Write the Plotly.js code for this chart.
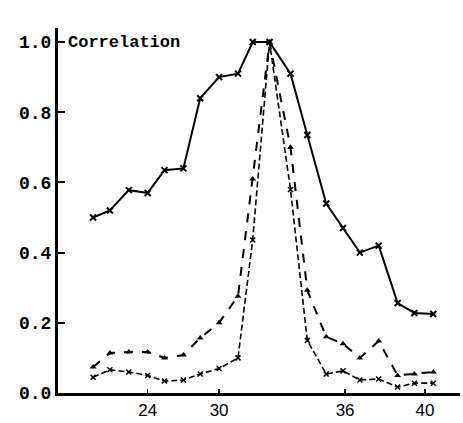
<!DOCTYPE html>
<html>
<head>
<meta charset="utf-8">
<script src="https://cdn.plot.ly/plotly-3.0.1.min.js"></script>
<style>html,body{margin:0;padding:0;background:#fff;}#chart{width:463px;height:423px;}</style>
</head>
<body>
<div id="chart"></div>
<script>
// x positions of the sampled points (axis units)
var xPos = [24.0, 24.8, 25.7, 26.6, 27.4, 28.3, 29.1, 30.0, 30.9, 31.6, 32.4, 33.4, 34.2, 35.1, 35.9, 36.7, 37.6, 38.5, 39.3, 40.2];
// upper curve
var seriesTop = [0.50, 0.52, 0.578, 0.57, 0.635, 0.64, 0.84, 0.90, 0.91, 1.0, 1.0, 0.91, 0.735, 0.54, 0.47, 0.40, 0.42, 0.256, 0.228, 0.225];
// middle curve (triangles)
var seriesMid = [0.074, 0.114, 0.117, 0.117, 0.10, 0.108, 0.157, 0.20, 0.276, 0.61, 1.0, 0.70, 0.293, 0.16, 0.14, 0.10, 0.148, 0.05, 0.054, 0.06];
// lower curve
var seriesLow = [0.045, 0.066, 0.06, 0.05, 0.034, 0.037, 0.054, 0.07, 0.10, 0.436, 1.0, 0.58, 0.15, 0.054, 0.063, 0.037, 0.04, 0.017, 0.028, 0.028];
var tickVals = [26.6, 30, 36, 39.8];
var tickText = ['24', '30', '36', '40'];
var yTicks = [0.0, 0.2, 0.4, 0.6, 0.8, 1.0];
var yTickText = ['0.0', '0.2', '0.4', '0.6', '0.8', '1.0'];

var traces = [
  {x: xPos, y: seriesTop, mode: 'lines+markers', type: 'scatter',
   line: {color: '#000', width: 2}, marker: {symbol: 'x-thin', size: 6, line: {color: '#000', width: 2}}},
  {x: xPos, y: seriesMid, mode: 'lines+markers', type: 'scatter',
   line: {color: '#000', width: 2, dash: 'dash'}, marker: {symbol: 'triangle-up', size: 6, color: '#000'}},
  {x: xPos, y: seriesLow, mode: 'lines+markers', type: 'scatter',
   line: {color: '#000', width: 1.6, dash: '6px,3px'}, marker: {symbol: 'x-thin', size: 5, line: {color: '#000', width: 1.5}}}
];

var layout = {
  width: 463, height: 423,
  margin: {l: 58, r: 3, t: 28, b: 30},
  paper_bgcolor: '#fff', plot_bgcolor: '#fff',
  showlegend: false,
  xaxis: {
    range: [22.33, 41.47], showgrid: false, zeroline: false,
    showline: true, linecolor: '#000', linewidth: 2.5,
    tickmode: 'array', tickvals: tickVals, ticktext: tickText,
    ticks: 'inside', ticklen: 4, tickwidth: 1.5, tickcolor: '#000',
    tickfont: {family: 'Liberation Sans, Arial, sans-serif', size: 17, color: '#000'}
  },
  yaxis: {
    range: [0, 1.04], showgrid: false, zeroline: false,
    showline: true, linecolor: '#000', linewidth: 3,
    tickmode: 'array', tickvals: yTicks, ticktext: yTickText,
    ticks: 'inside', ticklen: 7, tickwidth: 2, tickcolor: '#000',
    tickfont: {family: 'Liberation Mono, Courier New, monospace', size: 18, color: '#000', weight: 'bold'}
  },
  annotations: [
    {xref: 'paper', yref: 'y', x: 0.02, y: 1.0, xanchor: 'left', yanchor: 'middle',
     text: '<b>Correlation</b>', showarrow: false,
     font: {family: 'Liberation Mono, Courier New, monospace', size: 17, color: '#000'}}
  ]
};
Plotly.newPlot('chart', traces, layout, {displayModeBar: false, staticPlot: true});
</script>
</body>
</html>
